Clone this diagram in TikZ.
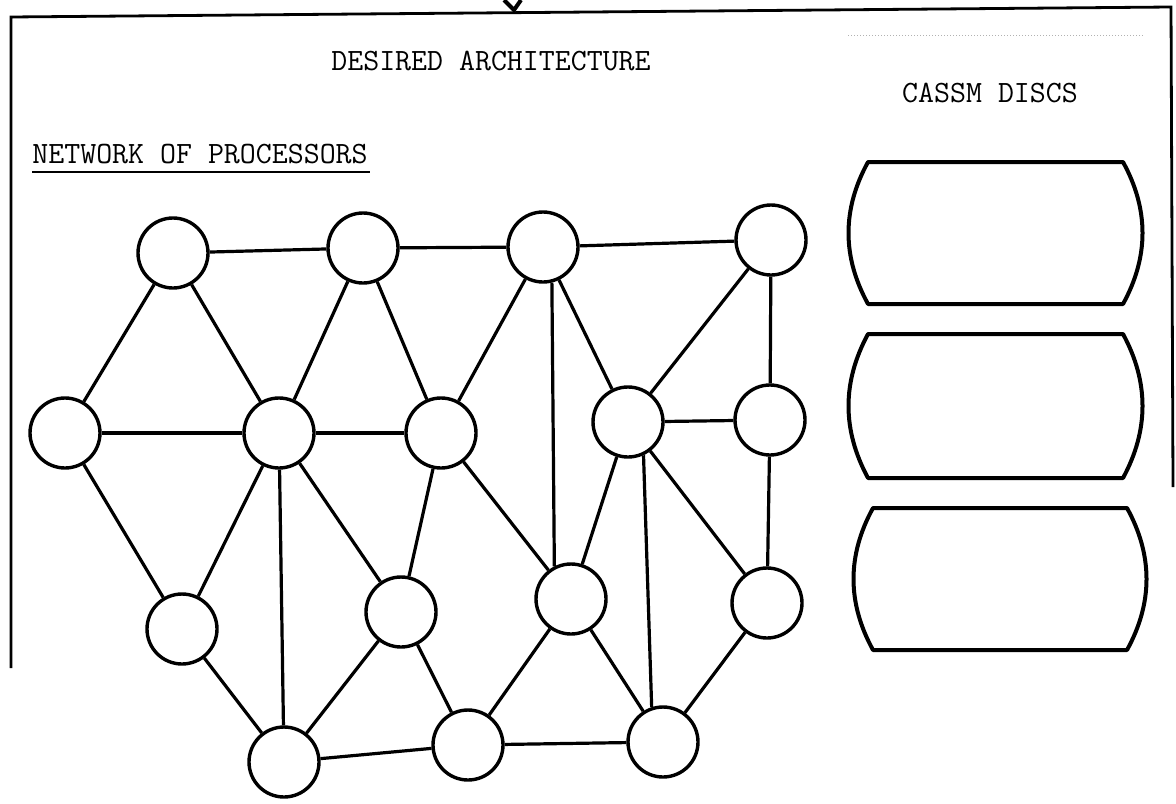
\documentclass[tikz,border=0pt]{standalone}
\usepackage{tikz}

\begin{document}
\begin{tikzpicture}[x=0.5pt, y=-0.5pt, proc/.style={circle,draw,line width=1.7pt,minimum size=35pt,inner sep=0pt}, link/.style={line width=1.6pt}, frame/.style={line width=1.4pt}, disc/.style={line width=2pt,line join=round}, lbl/.style={font=\ttfamily\fontsize{15.5}{18}\selectfont,inner sep=0pt}]
\useasboundingbox (0,0) rectangle (1176,803);
\draw[frame] (11,668) -- (11,17) -- (1171,7) -- (1173,487);
\draw[line width=2pt] (504,0) -- (514,10) -- (521,0);
\draw[gray!60,densely dotted,line width=0.5pt] (848,35) -- (1143,35);
\node[lbl,anchor=base] (title) at (491,70) {DESIRED ARCHITECTURE};
\node[lbl,anchor=base] (cassm) at (990,102) {CASSM DISCS};
\node[lbl,anchor=base west] (net) at (32,163) {NETWORK OF PROCESSORS};
\draw[line width=1pt] ([yshift=-4.5pt]net.base west) -- ([yshift=-4.5pt,xshift=1pt]net.base east);
\node[proc] (t1) at (173,253) {};
\node[proc] (t2) at (363,248) {};
\node[proc] (t3) at (543,247) {};
\node[proc] (t4) at (771,240) {};
\node[proc] (m1) at (65,433) {};
\node[proc] (m2) at (279,433) {};
\node[proc] (m3) at (441,433) {};
\node[proc] (m4) at (628,422) {};
\node[proc] (m5) at (770,420) {};
\node[proc] (l1) at (182,629) {};
\node[proc] (l2) at (401,612) {};
\node[proc] (l3) at (571,599) {};
\node[proc] (l4) at (767,603) {};
\node[proc] (b1) at (284,762) {};
\node[proc] (b2) at (468,745) {};
\node[proc] (b3) at (663,742) {};
\draw[link] (t1)--(t2)--(t3)--(t4);
\draw[link] (m1)--(t1)--(m2)--(t2)--(m3)--(t3)--(m4)--(t4)--(m5);
\draw[link] (m1)--(m2)--(m3);
\draw[link] (m4)--(m5)--(l4)--(b3)--(b2)--(b1)--(l1)--(m1);
\draw[link] (m2)--(l1);
\draw[link] (m2)--(b1);
\draw[link] (m2)--(l2)--(m3)--(l3)--(m4)--(l4);
\draw[link] (b1)--(l2)--(b2)--(l3)--(b3);
\draw[link] (t3.-76)--(l3.117);
\draw[link] (m4.-65)--(b3.108);
\foreach \l/\r/\t/\b in {868/1123/162/304, 868/1123/334/478, 873/1127/508/650}
  \draw[disc] (\l,\t) -- (\r,\t) .. controls ({\r+26},{\t+(\b-\t)/3}) and ({\r+26},{\b-(\b-\t)/3}) .. (\r,\b) -- (\l,\b) .. controls ({\l-26},{\b-(\b-\t)/3}) and ({\l-26},{\t+(\b-\t)/3}) .. cycle;
\end{tikzpicture}
\end{document}
